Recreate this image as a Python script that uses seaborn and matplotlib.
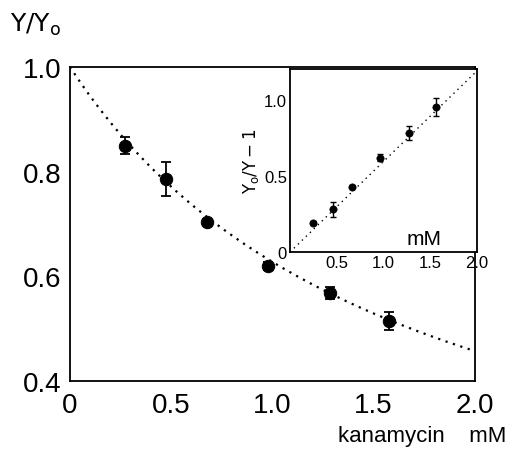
import numpy as np
import pandas as pd
import matplotlib
matplotlib.use("Agg")
import matplotlib.pyplot as plt
import seaborn as sns

# Main panel data: relative yield vs kanamycin (mM)
conc = [0.27, 0.475, 0.676, 0.98, 1.284, 1.578]
ratio = [0.849, 0.786, 0.704, 0.620, 0.568, 0.515]
ratio_err = [0.016, 0.033, 0.006, 0.008, 0.012, 0.017]

# Inset data: Y0/Y - 1 vs kanamycin (mM)
inset_conc = [0.25, 0.46, 0.66, 0.96, 1.27, 1.56]
inset_val = [0.19, 0.28, 0.43, 0.62, 0.78, 0.95]
inset_err = [0.015, 0.05, 0.01, 0.02, 0.045, 0.06]

# Fitted inhibition constant (1/mM)
K_FIT = 0.594

main_xticks = [0, 0.5, 1.0, 1.5, 2.0]
main_xticklabels = ["0", "0.5", "1.0", "1.5", "2.0"]
main_yticks = [0.4, 0.6, 0.8, 1.0]
main_yticklabels = ["0.4", "0.6", "0.8", "1.0"]
inset_xticks = [0.5, 1.0, 1.5, 2.0]
inset_xticklabels = ["0.5", "1.0", "1.5", "2.0"]
inset_yticks = [0, 0.5, 1.0]
inset_yticklabels = ["0", "0.5", "1.0"]

sns.set_style("white")
plt.rcParams['font.family'] = ['Liberation Sans', 'DejaVu Sans']
plt.rcParams['mathtext.fontset'] = 'dejavusans'
plt.rcParams['text.color'] = 'black'
plt.rcParams['xtick.color'] = 'black'
plt.rcParams['ytick.color'] = 'black'
plt.rcParams['axes.labelcolor'] = 'black'

fig = plt.figure(figsize=(5.14, 4.52), dpi=100)
ax = fig.add_axes([0.136, 0.155, 0.788, 0.695])

xs = np.linspace(0, 2.0, 200)
fit_df = pd.DataFrame({"x": xs, "y": 1.0 / (1.0 + K_FIT * xs)})
sns.lineplot(data=fit_df, x="x", y="y", ax=ax, color="black",
             linestyle=(0, (1, 2.5)), linewidth=1.6)
main_df = pd.DataFrame({"x": conc, "y": ratio})
ax.errorbar(conc, ratio, yerr=ratio_err, fmt="none", ecolor="black",
            elinewidth=1.3, capsize=3.5, capthick=1.3)
sns.scatterplot(data=main_df, x="x", y="y", ax=ax, color="black",
                s=80, edgecolor="black", zorder=5)

ax.set_xlim(0, 2.0)
ax.set_ylim(0.4, 1.0)
ax.set_xticks(main_xticks)
ax.set_xticklabels(main_xticklabels, fontsize=20)
ax.set_yticks(main_yticks)
ax.set_yticklabels(main_yticklabels, fontsize=20)
ax.tick_params(direction="inout", length=10, width=1.2, pad=1)
ax.tick_params(axis="x", pad=3)
for sp in ax.spines.values():
    sp.set_linewidth(1.3)
    sp.set_color("black")
ax.set_xlabel("")
ax.set_ylabel("")
fig.text(0.985, 0.012, "kanamycin    mM", ha="right", va="bottom", fontsize=16)
fig.text(0.02, 0.915, r"$\Upsilon/\Upsilon_\mathrm{o}$", ha="left", va="bottom", fontsize=18)

# Inset
axi = fig.add_axes([0.564, 0.44, 0.364, 0.405])
inset_fit = pd.DataFrame({"x": xs, "y": K_FIT * xs})
sns.lineplot(data=inset_fit, x="x", y="y", ax=axi, color="black",
             linestyle=(0, (1, 3)), linewidth=1.0)
axi.errorbar(inset_conc, inset_val, yerr=inset_err, fmt="none", ecolor="black",
             elinewidth=1.0, capsize=2.5, capthick=1.0)
inset_df = pd.DataFrame({"x": inset_conc, "y": inset_val})
sns.scatterplot(data=inset_df, x="x", y="y", ax=axi, color="black",
                s=28, edgecolor="black", zorder=5)
axi.set_xlim(0, 2.0)
axi.set_ylim(0, 1.2)
axi.set_xticks(inset_xticks)
axi.set_xticklabels(inset_xticklabels, fontsize=12)
axi.set_yticks(inset_yticks)
axi.set_yticklabels(inset_yticklabels, fontsize=12)
axi.tick_params(direction="in", length=4, width=1.0, pad=2)
for sp in axi.spines.values():
    sp.set_linewidth(1.3)
    sp.set_color("black")
axi.set_xlabel("")
axi.set_ylabel(r"$\Upsilon_\mathrm{o}/\Upsilon - 1$", fontsize=12, labelpad=2)
axi.text(1.43, 0.03, "mM", ha="center", va="bottom", fontsize=15)

fig.savefig("out.png", dpi=100)
